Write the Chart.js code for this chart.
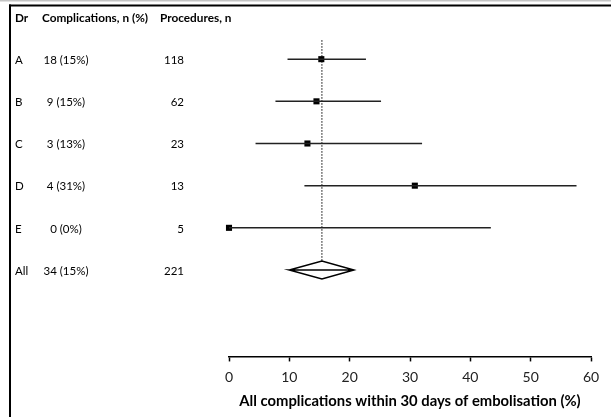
<!DOCTYPE html>
<html><head><meta charset="utf-8">
<script src="https://cdn.jsdelivr.net/npm/chart.js@4"></script>
<style>html,body{margin:0;padding:0;background:#fff;}canvas{display:block;}</style>
</head><body>
<canvas id="c" width="611" height="417"></canvas>
<script>
// ---- data ----
const columnHeaders = ['Dr', 'Complications, n (%)', 'Procedures, n'];
const doctors = ['A', 'B', 'C', 'D', 'E'];
const complications = [18, 9, 3, 4, 0];
const complicationPct = [15, 15, 13, 31, 0];
const procedures = [118, 62, 23, 13, 5];
const estimates = [15.3, 14.5, 13.0, 30.8, 0];
const ciLower = [9.7, 7.7, 4.4, 12.5, 0];
const ciUpper = [22.7, 25.2, 32.0, 57.6, 43.4];
const pooledLabel = ['All'];
const pooledComplications = [34];
const pooledPct = [15];
const pooledProcedures = [221];
const pooledEstimate = [15.4];
const pooledLower = [10.0];
const pooledUpper = [20.7];
const xTickValues = [0, 10, 20, 30, 40, 50, 60];
const xTitle = 'All complications within 30 days of embolisation (%)';

const FONT = 'Lato, "Open Sans", sans-serif';
const pooledRow = doctors.length;
const diamondHalf = 0.21;

const datasets = [];
doctors.forEach((d, i) => {
  datasets.push({
    type: 'line',
    data: [{x: ciLower[i], y: i}, {x: ciUpper[i], y: i}],
    borderColor: '#222', borderWidth: 1.5, pointRadius: 0, fill: false
  });
});
datasets.push({
  type: 'line',
  data: [{x: pooledEstimate[0], y: -0.45}, {x: pooledEstimate[0], y: pooledRow - diamondHalf}],
  borderColor: '#000', borderWidth: 1, borderDash: [1.5, 1.5], pointRadius: 0, fill: false
});
datasets.push({
  type: 'line',
  data: [
    {x: pooledLower[0], y: pooledRow},
    {x: pooledEstimate[0], y: pooledRow - diamondHalf},
    {x: pooledUpper[0], y: pooledRow},
    {x: pooledEstimate[0], y: pooledRow + diamondHalf},
    {x: pooledLower[0], y: pooledRow},
    {x: pooledUpper[0], y: pooledRow}
  ],
  borderColor: '#000', borderWidth: 1.5, pointRadius: 0, fill: false, tension: 0
});
datasets.push({
  type: 'scatter',
  data: estimates.map((v, i) => ({x: v, y: i})),
  pointStyle: 'rect', pointRadius: 4.3, backgroundColor: '#000', borderColor: '#000', borderWidth: 0,
  clip: false
});

const tablePlugin = {
  id: 'table',
  beforeDraw(chart) {
    const ctx = chart.ctx;
    ctx.save();
    ctx.fillStyle = '#fff';
    ctx.fillRect(0, 0, chart.width, chart.height);
    ctx.fillStyle = '#c4c4c4';
    ctx.fillRect(0, 0, chart.width, 1.5);
    ctx.fillStyle = '#000';
    ctx.fillRect(9, 4.5, chart.width - 9, 2);
    ctx.fillRect(9, 4.5, 2, chart.height);
    ctx.restore();
  },
  afterDraw(chart) {
    const ctx = chart.ctx;
    const ys = chart.scales.y;
    ctx.save();
    ctx.fillStyle = '#000';
    ctx.textBaseline = 'middle';
    const hy = ys.getPixelForValue(-1) + 1;
    ctx.font = 'bold 11.8px ' + FONT;
    ctx.textAlign = 'left';
    ctx.fillText(columnHeaders[0], 15, hy);
    ctx.fillText(columnHeaders[1], 42, hy);
    ctx.fillText(columnHeaders[2], 160, hy);
    ctx.font = '11.5px ' + FONT;
    const rows = doctors.map((d, i) => [d, complications[i] + ' (' + complicationPct[i] + '%)', String(procedures[i])]);
    rows.push([pooledLabel[0], pooledComplications[0] + ' (' + pooledPct[0] + '%)', String(pooledProcedures[0])]);
    rows.forEach((r, i) => {
      const y = ys.getPixelForValue(i) + 1;
      ctx.textAlign = 'left';
      ctx.fillText(r[0], 15, y);
      ctx.textAlign = 'center';
      ctx.fillText(r[1], 66, y);
      ctx.textAlign = 'right';
      ctx.fillText(r[2], 184, y);
    });
    ctx.restore();
  }
};

new Chart(document.getElementById('c'), {
  type: 'scatter',
  data: {datasets},
  plugins: [tablePlugin],
  options: {
    responsive: false,
    animation: false,
    layout: {padding: {left: 229, right: 20, top: 17, bottom: 10}},
    plugins: {legend: {display: false}, tooltip: {enabled: false}},
    scales: {
      x: {
        type: 'linear', min: 0, max: 60, position: 'bottom',
        afterBuildTicks: (axis) => { axis.ticks = xTickValues.map(v => ({value: v})); },
        border: {display: true, color: '#000', width: 1.5},
        grid: {display: true, drawOnChartArea: false, drawTicks: true, tickLength: 5, tickColor: '#000', tickWidth: 1.5, color: '#000'},
        ticks: {color: '#222', font: {size: 14, family: FONT}, padding: 8, maxRotation: 0},
        title: {display: true, text: xTitle, color: '#000', font: {size: 14.8, weight: 'bold', family: FONT}, padding: {top: -2, bottom: -3}}
      },
      y: {type: 'linear', min: -1, max: 7.05, reverse: true, display: false}
    }
  }
});
</script>
</body></html>
